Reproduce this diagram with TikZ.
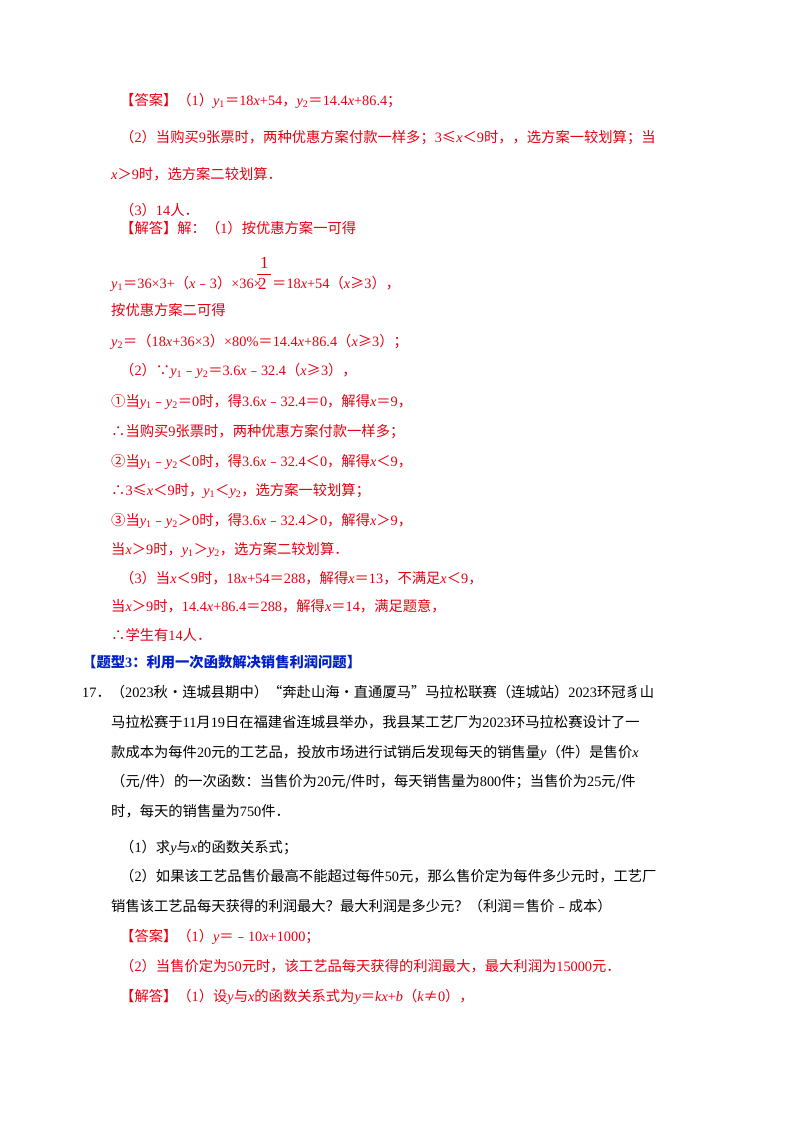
\documentclass[tikz,border=0pt]{standalone}
\usepackage{fontspec}
\setmainfont{Noto Sans CJK SC}
\newfontfamily\lat{Liberation Serif}
\newcommand{\ix}[1]{{\lat\itshape #1}}
\newcommand{\nm}[1]{{\lat #1}}
\newcommand{\sbs}[1]{\textsubscript{\lat #1}}
\definecolor{ans}{RGB}{228,0,18}
\definecolor{tblue}{RGB}{0,32,200}
\begin{document}
\begin{tikzpicture}[x=1pt,y=1pt,
  ln/.style={anchor=base west,inner sep=0pt,font=\fontsize{14.3}{16}\selectfont},
  rl/.style={ln,text=ans},
  bl/.style={ln,text=black}]
\useasboundingbox (0,0) rectangle (800,-1132);
\fill[white] (0,0) rectangle (800,-1132);
\node[rl] (l1) at (120,-105) {【答案】（\nm{1}）\ix{y}\sbs{1}＝\nm{18}\ix{x}\nm{+54}，\ix{y}\sbs{2}＝\nm{14.4}\ix{x}\nm{+86.4}；};
\node[rl] (l2) at (120,-142) {（\nm{2}）当购买\nm{9}张票时，两种优惠方案付款一样多；\nm{3}≤\ix{x}＜\nm{9}时，，选方案一较划算；当};
\node[rl] (l3) at (111,-179) {\ix{x}＞\nm{9}时，选方案二较划算．};
\node[rl] (l4) at (120,-215) {（\nm{3}）\nm{14}人．};
\node[rl] (l5) at (120,-233) {【解答】解：（\nm{1}）按优惠方案一可得};
\node[rl] (l6) at (111,-288) {\ix{y}\sbs{1}＝\nm{36×3+}（\ix{x}﹣\nm{3}）\nm{×36×}};
\node[rl,font=\fontsize{17}{18}\selectfont] (f1) at (260,-268) {\nm{1}};
\draw[ans,line width=0.7] (257,-274) -- (271,-274);
\node[rl,font=\fontsize{17}{18}\selectfont] (f2) at (258,-289) {\nm{2}};
\node[rl] (l6b) at (272,-288) {＝\nm{18}\ix{x}\nm{+54}（\ix{x}≥\nm{3}），};
\node[rl] (l7) at (111,-315) {按优惠方案二可得};
\node[rl] (l8) at (111,-346) {\ix{y}\sbs{2}＝（\nm{18}\ix{x}\nm{+36×3}）\nm{×80\%}＝\nm{14.4}\ix{x}\nm{+86.4}（\ix{x}≥\nm{3}）；};
\node[rl] (l9) at (120,-375) {（\nm{2}）∵\ix{y}\sbs{1}﹣\ix{y}\sbs{2}＝\nm{3.6}\ix{x}﹣\nm{32.4}（\ix{x}≥\nm{3}），};
\node[rl] (l10) at (111,-406) {①当\ix{y}\sbs{1}﹣\ix{y}\sbs{2}＝\nm{0}时，得\nm{3.6}\ix{x}﹣\nm{32.4}＝\nm{0}，解得\ix{x}＝\nm{9}，};
\node[rl] (l11) at (111,-436) {∴当购买\nm{9}张票时，两种优惠方案付款一样多；};
\node[rl] (l12) at (111,-466) {②当\ix{y}\sbs{1}﹣\ix{y}\sbs{2}＜\nm{0}时，得\nm{3.6}\ix{x}﹣\nm{32.4}＜\nm{0}，解得\ix{x}＜\nm{9}，};
\node[rl] (l13) at (111,-495) {∴\nm{3}≤\ix{x}＜\nm{9}时，\ix{y}\sbs{1}＜\ix{y}\sbs{2}，选方案一较划算；};
\node[rl] (l14) at (111,-525) {③当\ix{y}\sbs{1}﹣\ix{y}\sbs{2}＞\nm{0}时，得\nm{3.6}\ix{x}﹣\nm{32.4}＞\nm{0}，解得\ix{x}＞\nm{9}，};
\node[rl] (l15) at (111,-554) {当\ix{x}＞\nm{9}时，\ix{y}\sbs{1}＞\ix{y}\sbs{2}，选方案二较划算．};
\node[rl] (l16) at (120,-583) {（\nm{3}）当\ix{x}＜\nm{9}时，\nm{18}\ix{x}\nm{+54}＝\nm{288}，解得\ix{x}＝\nm{13}，不满足\ix{x}＜\nm{9}，};
\node[rl] (l17) at (111,-611) {当\ix{x}＞\nm{9}时，\nm{14.4}\ix{x}\nm{+86.4}＝\nm{288}，解得\ix{x}＝\nm{14}，满足题意，};
\node[rl] (l18) at (111,-640) {∴学生有\nm{14}人．};
\node[ln,text=tblue,font=\fontsize{14.3}{16}\selectfont\bfseries] (h) at (82,-667) {【题型\nm{3}：利用一次函数解决销售利润问题】};
\node[bl] (q1) at (82,-697) {\nm{17}．（\nm{2023}秋•连城县期中）“奔赴山海•直通厦马”马拉松联赛（连城站）\nm{2023}环冠豸山};
\node[bl] (q2) at (111,-727) {马拉松赛于\nm{11}月\nm{19}日在福建省连城县举办，我县某工艺厂为\nm{2023}环马拉松赛设计了一};
\node[bl] (q3) at (111,-757) {款成本为每件\nm{20}元的工艺品，投放市场进行试销后发现每天的销售量\ix{y}（件）是售价\ix{x}};
\node[bl] (q4) at (111,-786) {（元/件）的一次函数：当售价为\nm{20}元/件时，每天销售量为\nm{800}件；当售价为\nm{25}元/件};
\node[bl] (q5) at (111,-816) {时，每天的销售量为\nm{750}件．};
\node[bl] (q6) at (120,-852) {（\nm{1}）求\ix{y}与\ix{x}的函数关系式；};
\node[bl] (q7) at (120,-881) {（\nm{2}）如果该工艺品售价最高不能超过每件\nm{50}元，那么售价定为每件多少元时，工艺厂};
\node[bl] (q8) at (111,-911) {销售该工艺品每天获得的利润最大？最大利润是多少元？（利润＝售价﹣成本）};
\node[rl] (a1) at (120,-941) {【答案】（\nm{1}）\ix{y}＝﹣\nm{10}\ix{x}\nm{+1000}；};
\node[rl] (a2) at (120,-971) {（\nm{2}）当售价定为\nm{50}元时，该工艺品每天获得的利润最大，最大利润为\nm{15000}元．};
\node[rl] (a3) at (120,-1001) {【解答】（\nm{1}）设\ix{y}与\ix{x}的函数关系式为\ix{y}＝\ix{kx}\nm{+}\ix{b}（\ix{k}≠\nm{0}），};
\end{tikzpicture}
\end{document}
